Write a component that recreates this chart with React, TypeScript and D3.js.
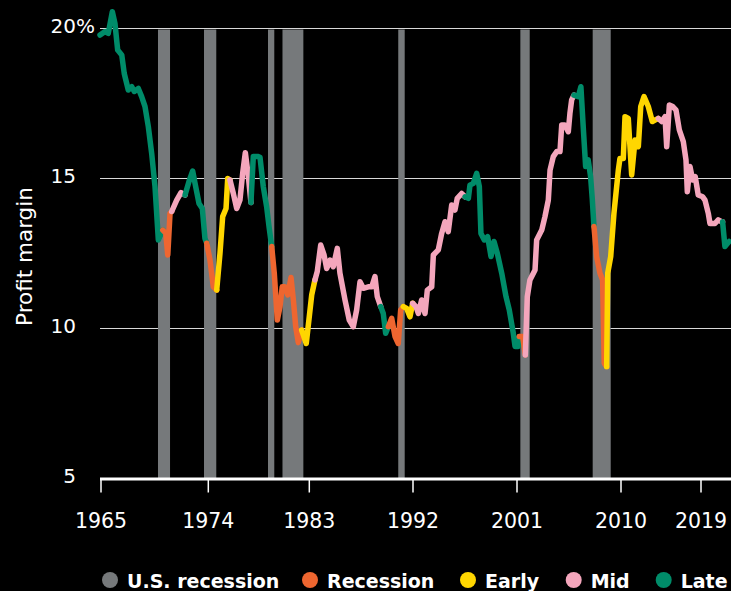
import React from "react";
import * as d3 from "d3";

// ---- data ----
const tickYears = [1965, 1974, 1983, 1992, 2001, 2010, 2019];
const yTicks = [5, 10, 15, 20];

const recessionStart = [1969.78, 1973.64, 1979.32, 1980.61, 1990.72, 2001.29, 2007.55];
const recessionEnd = [1970.79, 1974.71, 1979.88, 1982.47, 1991.28, 2002.1, 2009.11];

const dates = [
  1964.92, 1965.34, 1965.61, 1965.95, 1966.17, 1966.4, 1966.74, 1966.95, 1967.29, 1967.58, 1967.79, 1968.13, 1968.41, 1968.69, 1968.97, 1969.25, 1969.53, 1969.81,
  1970.18, 1970.43, 1970.6, 1970.79,
  1970.93, 1971.35, 1971.71,
  1972.05, 1972.38, 1972.69, 1972.94, 1973.22, 1973.5, 1973.72,
  1973.87, 1974.15, 1974.45,
  1974.75, 1975.04, 1975.28, 1975.58, 1975.73,
  1975.93, 1976.23, 1976.53, 1976.82, 1977.07, 1977.3, 1977.56,
  1977.8, 1978.01, 1978.47, 1978.61, 1978.9, 1979.2, 1979.41,
  1979.65, 1979.88, 1980.15, 1980.39, 1980.59, 1980.83, 1981.08, 1981.37, 1981.58, 1981.79, 1982.02,
  1982.32, 1982.73, 1983.21,
  1983.49, 1983.69, 1983.99, 1984.28, 1984.51, 1984.8, 1985.08, 1985.43, 1985.66, 1986.1, 1986.47, 1986.82, 1987.11, 1987.4, 1987.69, 1988.12, 1988.42, 1988.7, 1988.9,
  1989.2, 1989.42, 1989.63,
  1989.86, 1990.15, 1990.44, 1990.72, 1990.93,
  1991.16, 1991.45, 1991.74,
  1991.97, 1992.26, 1992.46, 1992.75, 1993.04, 1993.24, 1993.62, 1993.76, 1994.19, 1994.48, 1994.77, 1995.05, 1995.35, 1995.63, 1995.83, 1996.21,
  1996.5, 1996.79, 1996.93, 1997.22, 1997.51, 1997.74, 1997.88, 1998.17, 1998.46, 1998.75, 1999.01, 1999.3, 1999.68, 2000.05, 2000.33, 2000.68, 2000.83, 2001.11,
  2001.2, 2001.49,
  2001.72, 2001.89, 2002.12, 2002.56, 2002.7, 2003.14, 2003.42, 2003.71, 2003.86, 2004.14, 2004.44, 2004.72, 2004.87, 2005.15, 2005.44, 2005.58, 2005.73,
  2005.93, 2006.3, 2006.53, 2006.73, 2006.94, 2007.16, 2007.37, 2007.51,
  2007.66, 2007.89, 2008.18, 2008.41, 2008.55,
  2008.76, 2008.85, 2009.11, 2009.39, 2009.77, 2009.91, 2010.26, 2010.45, 2010.82, 2011.2, 2011.58, 2011.95, 2012.22, 2012.59, 2013.07, 2013.52, 2013.83,
  2014.2, 2014.58, 2014.95, 2015.14, 2015.44, 2015.82, 2016.19, 2016.56, 2017.01, 2017.31, 2017.46, 2017.76, 2018.06, 2018.35, 2018.69, 2019.19, 2019.45, 2019.82, 2020.01, 2020.57, 2020.94, 2021.32,
  2021.43, 2021.69, 2022.17,
];

const margins = [
  19.78, 19.9, 19.84, 20.56, 20.17, 19.28, 19.12, 18.5, 17.95, 18.06, 17.9, 18.0, 17.73, 17.4, 16.73, 15.84, 14.73, 12.95,
  13.28, 13.18, 12.45, 13.84,
  13.9, 14.28, 14.53,
  14.45, 14.9, 15.25, 14.73, 14.17, 14.0, 13.0,
  12.84, 12.28, 11.39,
  11.28, 12.5, 13.73, 14.0, 15.0,
  14.95, 14.5, 14.0, 14.28, 15.2, 15.86, 15.1,
  14.2, 15.73, 15.73, 15.7, 14.73, 14.06, 13.4,
  12.73, 11.84, 10.28, 10.73, 11.39, 11.39, 11.12, 11.7, 10.95, 10.06, 9.53,
  9.95, 9.5, 11.12,
  11.62, 11.9, 12.78, 12.45, 12.0, 12.28, 12.06, 12.67, 11.84, 10.95, 10.28, 10.06, 10.62, 11.56, 11.34, 11.39, 11.39, 11.73, 11.06,
  10.73, 10.5, 9.84,
  10.06, 10.34, 9.73, 9.5, 10.62,
  10.73, 10.67, 10.39,
  10.84, 10.73, 10.5, 10.95, 10.5, 11.28, 11.39, 12.45, 12.62, 13.17, 13.56, 13.23, 14.12, 13.95, 14.34, 14.5,
  14.39, 14.34, 14.78, 14.84, 15.17, 14.73, 13.17, 12.95, 13.06, 12.4, 12.9, 12.5, 11.84, 11.06, 10.62, 9.84, 9.4, 9.4,
  9.73, 9.73,
  9.12, 11.06, 11.62, 11.95, 12.95, 13.28, 13.73, 14.28, 15.28, 15.73, 15.9, 15.9, 16.78, 16.78, 16.56, 17.17, 17.62,
  17.78, 17.73, 18.06, 16.73, 15.4, 15.62, 15.06, 14.34,
  13.4, 12.4, 11.84, 11.62, 8.84,
  8.73, 11.84, 12.4, 13.84, 15.28, 15.67, 15.67, 17.06, 17.0, 15.12, 16.28, 16.06, 17.4, 17.73, 17.4, 16.9, 16.95,
  17.0, 16.9, 17.06, 16.06, 17.45, 17.4, 17.28, 16.62, 16.23, 15.62, 14.56, 15.4, 14.95, 15.06, 14.45, 14.39, 14.28, 13.84, 13.5, 13.5, 13.62, 13.56,
  13.56, 12.73, 12.9,
];

// phase runs: [phase code, number of points]
const phaseRuns: [string, number][] = [
  ["L", 18], ["R", 4], ["M", 3], ["L", 7], ["R", 3], ["E", 5], ["M", 7], ["L", 7], ["R", 11], ["E", 3],
  ["M", 19], ["L", 3], ["R", 5], ["E", 3], ["M", 16], ["L", 18], ["R", 2], ["M", 17], ["L", 8], ["R", 5],
  ["E", 17], ["M", 22], ["L", 3],
];

const legendLabels = ["U.S. recession", "Recession", "Early", "Mid", "Late"];
const legendKeys = ["US", "R", "E", "M", "L"];

// ---- styling ----
const COLORS: Record<string, string> = {
  US: "#76797b",
  R: "#ee6630",
  E: "#ffd600",
  M: "#f4a6bc",
  L: "#008c69",
};
const FONT = "'DejaVu Sans', sans-serif";

const W = 731;
const H = 591;

export default function App() {
  const x = d3.scaleLinear().domain(tickYears).range([101, 208.3, 309.3, 413, 517, 621, 701]);
  const y = d3.scaleLinear().domain([5, 20]).range([478.5, 28.5]);

  const points = dates.map((d, i) => ({ date: d, v: margins[i] }));
  const line = d3
    .line<{ date: number; v: number }>()
    .x((d) => x(d.date))
    .y((d) => y(d.v));

  const segs: { phase: string; pts: { date: number; v: number }[] }[] = [];
  let idx = 0;
  phaseRuns.forEach(([phase, n]) => {
    const end = Math.min(idx + n + 1, points.length);
    segs.push({ phase, pts: points.slice(idx, end) });
    idx += n;
  });

  const legendX = [110, 310, 468, 573.7, 663.7];

  return (
    <svg
      width={W}
      height={H}
      style={{ position: "absolute", left: 0, top: 0, display: "block", background: "#000" }}
    >
      <rect x={0} y={0} width={W} height={H} fill="#000" />
      {/* gridlines */}
      {yTicks
        .filter((t) => t !== 5)
        .map((t) => (
          <line key={t} x1={100} x2={W} y1={y(t)} y2={y(t)} stroke="#d8d8d8" strokeWidth={1.2} />
        ))}
      {/* recession bars */}
      {recessionStart.map((s, i) => (
        <rect
          key={i}
          x={x(s)}
          width={x(recessionEnd[i]) - x(s)}
          y={y(20) + 1}
          height={y(5) - y(20) - 1}
          fill={COLORS.US}
        />
      ))}
      {/* y tick labels */}
      {yTicks.map((t) => (
        <text
          key={t}
          x={76}
          y={y(t) + 4}
          textAnchor="end"
          fill="#fff"
          fontFamily={FONT}
          fontSize={20}
        >
          {t}
        </text>
      ))}
      <text x={76} y={y(20) + 4} fill="#fff" fontFamily={FONT} fontSize={20}>
        %
      </text>
      <text
        transform={`translate(32,${(y(15) + y(10)) / 2 + 3}) rotate(-90)`}
        textAnchor="middle"
        fill="#fff"
        fontFamily={FONT}
        fontSize={21.5}
      >
        Profit margin
      </text>
      {/* x axis */}
      <line x1={100} x2={W} y1={y(5) + 0.5} y2={y(5) + 0.5} stroke="#fff" strokeWidth={3} />
      {tickYears.map((t) => (
        <g key={t}>
          <line x1={x(t)} x2={x(t)} y1={y(5)} y2={y(5) + 14} stroke="#fff" strokeWidth={1.5} />
          <text
            x={x(t)}
            y={527.5}
            textAnchor="middle"
            fill="#fff"
            fontFamily={FONT}
            fontSize={20.5}
          >
            {t}
          </text>
        </g>
      ))}
      {/* line segments */}
      {segs.map((s, i) => (
        <path
          key={i}
          d={line(s.pts) || ""}
          fill="none"
          stroke={COLORS[s.phase]}
          strokeWidth={5.5}
          strokeLinejoin="round"
          strokeLinecap="round"
        />
      ))}
      {/* legend */}
      {legendLabels.map((l, i) => (
        <g key={l}>
          <circle cx={legendX[i]} cy={580} r={8} fill={COLORS[legendKeys[i]]} />
          <text
            x={legendX[i] + 17}
            y={587.5}
            fill="#fff"
            fontFamily={FONT}
            fontSize={19}
            fontWeight={700}
          >
            {l}
          </text>
        </g>
      ))}
    </svg>
  );
}
